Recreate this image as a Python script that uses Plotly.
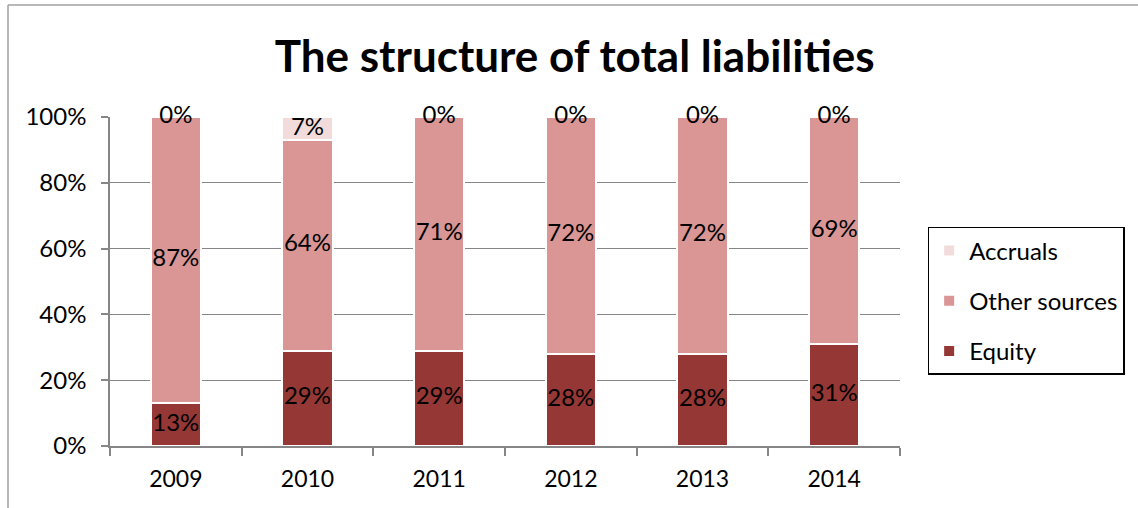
import plotly.graph_objects as go

years = ["2009", "2010", "2011", "2012", "2013", "2014"]
equity = [13, 29, 29, 28, 28, 31]
other_sources = [87, 64, 71, 72, 72, 69]
accruals = [0, 7, 0, 0, 0, 0]
y_ticks = [0, 20, 40, 60, 80, 100]
y_tick_labels = ["0%", "20%", "40%", "60%", "80%", "100%"]

FONT = "Lato"
C_EQ = "#953735"
C_OT = "#D99694"
C_AC = "#F2DCDB"
LBL = 24

fig = go.Figure()
fig.add_trace(go.Bar(
    x=years, y=equity, name="Equity", legendgroup="eq", legendrank=3,
    marker=dict(color=C_EQ, line=dict(color="white", width=2)),
))
fig.add_trace(go.Bar(
    x=years, y=other_sources, name="Other sources", legendgroup="ot", legendrank=2,
    marker=dict(color=C_OT, line=dict(color="white", width=2)),
))
fig.add_trace(go.Bar(
    x=years, y=accruals, name="Accruals", legendgroup="ac", legendrank=1,
    marker=dict(color=C_AC, line=dict(color="white", width=2)),
))

# data labels at the centre of each stacked segment
eq_mid = [e / 2 for e in equity]
ot_mid = [e + o / 2 for e, o in zip(equity, other_sources)]
acc_mid = [e + o + a / 2 for e, o, a in zip(equity, other_sources, accruals)]
for vals, mids in ((equity, eq_mid), (other_sources, ot_mid), (accruals, acc_mid)):
    fig.add_trace(go.Scatter(
        x=years, y=mids, mode="text", text=[f"{v}%" for v in vals],
        textposition="middle center", showlegend=False, cliponaxis=False,
        textfont=dict(family=FONT, size=LBL, color="black"), hoverinfo="skip",
    ))

fig.update_layout(
    barmode="stack",
    bargap=0.62,
    width=1138, height=508,
    margin=dict(l=110, r=238, t=117, b=62),
    paper_bgcolor="white", plot_bgcolor="white",
    title=dict(text="<b>The structure of total liabilities</b>",
               x=0.505, xanchor="center", y=0.888, yanchor="middle",
               font=dict(family=FONT, size=44, color="black")),
    legend=dict(x=1.035, y=0.666, xanchor="left", yanchor="top",
                traceorder="grouped", tracegroupgap=16,
                bordercolor="black", borderwidth=1.5,
                font=dict(family=FONT, size=24, color="black"),
                itemwidth=30),
    showlegend=True,
    font=dict(family=FONT, color="black"),
)
fig.update_xaxes(
    showline=True, linecolor="#868686", linewidth=1.5,
    ticks="outside", tickson="boundaries", ticklen=8, tickcolor="#868686",
    tickwidth=1.5, ticklabelstandoff=12,
    tickfont=dict(family=FONT, size=23, color="black"),
)
fig.update_yaxes(
    range=[0, 100], tickvals=y_ticks, ticktext=y_tick_labels,
    showline=True, linecolor="#868686", linewidth=1.5,
    ticks="outside", ticklen=7, tickcolor="#868686", tickwidth=1.5,
    showgrid=True, gridcolor="#868686", gridwidth=1.2,
    zeroline=False, ticklabelstandoff=10,
    tickfont=dict(family=FONT, size=24, color="black"),
)
# outer chart-area frame (left and top edges visible)
fig.add_shape(type="line", xref="paper", yref="paper",
              x0=(8 - 110) / 790, x1=(8 - 110) / 790,
              y0=(446 - 5) / 329, y1=(446 - 520) / 329,
              line=dict(color="#A0A0A0", width=1.5))
fig.add_shape(type="line", xref="paper", yref="paper",
              x0=(8 - 110) / 790, x1=(1150 - 110) / 790,
              y0=(446 - 5) / 329, y1=(446 - 5) / 329,
              line=dict(color="#A0A0A0", width=1.5))

fig.write_html("out.html")
